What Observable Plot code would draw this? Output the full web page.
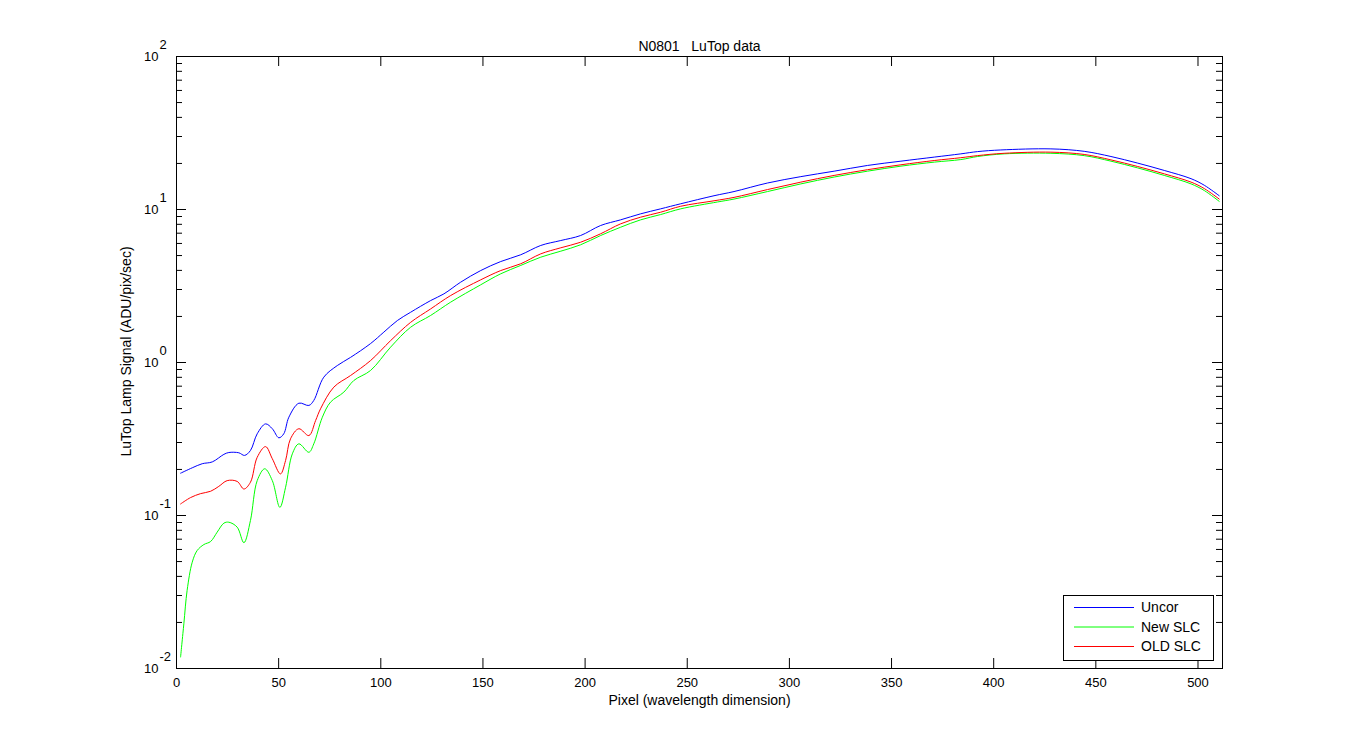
<!DOCTYPE html>
<html><head><meta charset="utf-8">
<script src="https://cdn.jsdelivr.net/npm/d3@7"></script>
<script src="https://cdn.jsdelivr.net/npm/@observablehq/plot@0.6"></script>
<style>
html,body{margin:0;padding:0;background:#fff;}
svg{display:block}
svg text{white-space:pre}
</style>
</head><body><div id="chart"></div>
<script>
const seriesNames = ["Uncor", "New SLC", "OLD SLC"];
const seriesColors = ["#0000ff", "#00ff00", "#ff0000"];

const uncorX = [2,7.7,12.6,17.5,23.2,25.6,30.5,33.3,36.2,39.5,43.6,46.9,50.1,52.5,55,59.9,64.8,67.2,72.1,78.7,85.2,95,101.5,108.1,114.6,124.4,130.9,139.1,148.9,158.7,168.5,178.3,188.1,197.8,207.6,217.4,227.2,237,246.8,263.1,272.9,289.3,305.6,321.9,338.2,354.6,370.9,383.9,392.1,403.5,428,444.3,457.4,470.5,483.5,496.6,503.1,510.4];
const uncorY = [0.189,0.205,0.218,0.224,0.251,0.258,0.257,0.247,0.266,0.342,0.397,0.369,0.322,0.342,0.439,0.542,0.524,0.565,0.802,0.955,1.08,1.33,1.58,1.88,2.13,2.54,2.81,3.35,3.99,4.57,5.06,5.82,6.27,6.76,7.86,8.56,9.37,10.1,10.9,12.3,13.1,14.9,16.4,17.8,19.4,20.7,22.0,23.1,23.9,24.5,24.9,24.0,22.2,20.1,18.0,15.9,14.4,12.3];

const newSlcX = [2,3.6,5.2,7.7,10.1,13.4,16.7,19.9,23.2,25.6,29.7,33,36.2,39.5,43.2,46.9,50.6,53.4,56.7,59.9,64.8,67.2,71.4,75.4,81.9,86.8,95,104.8,114.6,124.4,134.2,148.9,158.7,168.5,178.3,188.1,197.8,207.6,217.4,227.2,237,246.8,264.8,272.9,289.3,305.6,321.9,338.2,354.6,370.9,383.9,392.1,405.1,428,444.3,457.4,470.5,483.5,496.6,503.1,510.4];
const newSlcY = [0.0119,0.0196,0.0324,0.0495,0.0590,0.0646,0.0676,0.0778,0.0891,0.0904,0.0839,0.0664,0.0928,0.169,0.202,0.169,0.113,0.153,0.253,0.294,0.259,0.294,0.439,0.551,0.640,0.763,0.887,1.26,1.70,2.03,2.48,3.22,3.80,4.31,4.88,5.34,5.88,6.76,7.66,8.56,9.27,10.1,11.2,11.7,13.1,14.7,16.3,17.8,19.2,20.4,21.2,22.2,23.1,23.3,22.5,20.7,18.7,16.7,14.7,13.3,11.3];

const oldSlcX = [2,6.9,11.8,16.7,20.7,24.8,29.7,33,36.2,39.5,43.6,46.9,50.9,53.4,55.8,59.9,64.8,68.1,70.5,77,85.2,95,104.8,114.6,124.4,134.2,148.9,158.7,168.5,178.3,188.1,197.8,207.6,217.4,227.2,237,246.8,263.1,272.9,289.3,305.6,321.9,338.2,354.6,370.9,383.9,392.1,405.1,428,444.3,457.4,470.5,483.5,496.6,503.1,510.4];
const oldSlcY = [0.119,0.131,0.139,0.144,0.155,0.169,0.167,0.149,0.165,0.240,0.282,0.235,0.187,0.229,0.317,0.369,0.333,0.418,0.498,0.690,0.822,1.03,1.39,1.83,2.24,2.74,3.47,3.99,4.42,5.13,5.62,6.11,6.94,8.06,8.91,9.60,10.5,11.4,12.0,13.5,15.1,16.7,18.2,19.6,20.9,21.8,22.5,23.3,23.7,22.9,21.1,19.1,17.1,15.1,13.7,11.7];

const titleText = "N0801   LuTop data";
const xLabel = "Pixel (wavelength dimension)";
const yLabel = "LuTop Lamp Signal (ADU/pix/sec)";
const xTicks = [0,50,100,150,200,250,300,350,400,450,500];
const yExponents = [-2,-1,0,1,2];

// build table
const rows = [];
[[uncorX, uncorY], [newSlcX, newSlcY], [oldSlcX, oldSlcY]].forEach(([xs, ys], i) => {
  xs.forEach((x, j) => rows.push({series: seriesNames[i], x, y: ys[j]}));
});
const yMajor = yExponents.map(e => Math.pow(10, e));
const yMinor = [];
yExponents.slice(0, -1).forEach(e => { for (let m = 2; m <= 9; m++) yMinor.push(m * Math.pow(10, e)); });

const W = 1350, H = 750, mL = 176, mR = 128, mT = 56, mB = 82;
const pw = W - mL - mR, ph = H - mT - mB;
const font = "'Liberation Sans', Arial, sans-serif";

const chart = Plot.plot({
  width: W, height: H,
  marginLeft: mL, marginRight: mR, marginTop: mT, marginBottom: mB,
  style: {fontFamily: font, fontSize: "13px", background: "#fff", color: "#000"},
  x: {domain: [0, 512], axis: null},
  y: {type: "log", domain: [0.01, 100], axis: null},
  color: {domain: seriesNames, range: seriesColors},
  marks: [
    Plot.line(rows, {x: "x", y: "y", z: "series", stroke: "series", strokeWidth: 1, curve: "catmull-rom"}),
    Plot.frame({stroke: "#000"}),
    Plot.ruleX(xTicks, {x: d => d, insetTop: ph - 10, stroke: "#000"}),
    Plot.ruleX(xTicks, {x: d => d, insetBottom: ph - 10, stroke: "#000"}),
    Plot.ruleY(yMajor, {y: d => d, insetRight: pw - 10, stroke: "#000"}),
    Plot.ruleY(yMajor, {y: d => d, insetLeft: pw - 10, stroke: "#000"}),
    Plot.ruleY(yMinor, {y: d => d, insetRight: pw - 6, stroke: "#000"}),
    Plot.ruleY(yMinor, {y: d => d, insetLeft: pw - 6, stroke: "#000"}),
    Plot.text(xTicks, {x: d => d, frameAnchor: "bottom", dy: 9, lineAnchor: "top", text: d => String(d), fill: "#000"}),
    Plot.text(yMajor, {y: d => d, frameAnchor: "left", dx: -18, textAnchor: "end", text: () => "10", fill: "#000"}),
    Plot.text(yExponents, {y: d => Math.pow(10, d), frameAnchor: "left", dx: -17, dy: -12, textAnchor: "start", text: d => String(d), fill: "#000"}),
    Plot.text([titleText], {frameAnchor: "top", dy: -15, text: d => d, fill: "#000", fontSize: 14}),
    Plot.text([xLabel], {frameAnchor: "bottom", dy: 36, text: d => d, fill: "#000", fontSize: 14}),
    Plot.text([yLabel], {frameAnchor: "left", textAnchor: "middle", dx: -50, dy: -11, rotate: -90, text: d => d, fill: "#000", fontSize: 14})
  ]
});
document.getElementById("chart").appendChild(chart);

// legend box inside the plot area (bottom right)
const svg = d3.select(chart);
const lg = svg.append("g").attr("font-family", font).attr("font-size", 14).attr("text-anchor", "start");
lg.append("rect").attr("x", 1063.5).attr("y", 595.5).attr("width", 150).attr("height", 65)
  .attr("fill", "#fff").attr("stroke", "#000");
seriesNames.forEach((name, i) => {
  const y = 607.5 + i * 19.5;
  lg.append("line").attr("x1", 1074).attr("x2", 1134).attr("y1", y).attr("y2", y)
    .attr("stroke", seriesColors[i]).attr("stroke-width", 1);
  lg.append("text").attr("x", 1141).attr("y", y).attr("dy", "0.35em").attr("text-anchor", "start")
    .attr("fill", "#000").text(name);
});
</script>
</body></html>
